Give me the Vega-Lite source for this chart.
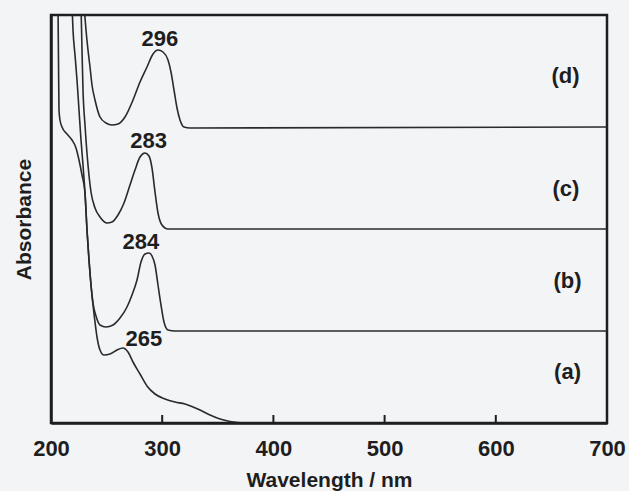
{
  "$schema": "https://vega.github.io/schema/vega-lite/v6.json",
  "autosize": {"type": "none"},
  "padding": {"left": 51, "top": 15, "right": 22, "bottom": 68},
  "width": 556,
  "height": 408,
  "background": "#f3f4f6",
  "config": {
    "view": {"stroke": "#1e1e1e", "strokeWidth": 2.5},
    "font": "Liberation Sans"
  },
  "datasets": {
    "spectra": [
      {"s":"a","w":206.29,"v":418},{"s":"a","w":206.74,"v":363},{"s":"a","w":207.19,"v":313},{"s":"a","w":208.09,"v":303},{"s":"a","w":209.89,"v":296},{"s":"a","w":214.39,"v":289},{"s":"a","w":218.88,"v":283},{"s":"a","w":222.48,"v":275},{"s":"a","w":225.18,"v":263},{"s":"a","w":227.88,"v":248},{"s":"a","w":230.58,"v":230},{"s":"a","w":232.37,"v":193},{"s":"a","w":234.17,"v":163},{"s":"a","w":235.97,"v":138},{"s":"a","w":237.77,"v":118},{"s":"a","w":239.57,"v":101},{"s":"a","w":241.37,"v":86},{"s":"a","w":244.06,"v":73},{"s":"a","w":247.66,"v":68},{"s":"a","w":253.06,"v":69},{"s":"a","w":259.35,"v":73},{"s":"a","w":264.75,"v":75},{"s":"a","w":269.24,"v":71},{"s":"a","w":273.74,"v":61},{"s":"a","w":280.04,"v":49},{"s":"a","w":286.33,"v":37},{"s":"a","w":293.53,"v":29},{"s":"a","w":302.52,"v":24},{"s":"a","w":311.51,"v":21},{"s":"a","w":320.5,"v":19},{"s":"a","w":327.7,"v":16},{"s":"a","w":334.0,"v":13},{"s":"a","w":342.99,"v":8},{"s":"a","w":351.98,"v":4},{"s":"a","w":360.97,"v":1.5},{"s":"a","w":374.46,"v":0},{"s":"a","w":700,"v":0},
      {"s":"b","w":218.88,"v":418},{"s":"b","w":219.78,"v":393},{"s":"b","w":221.58,"v":368},{"s":"b","w":223.38,"v":343},{"s":"b","w":225.18,"v":313},{"s":"b","w":226.98,"v":283},{"s":"b","w":228.78,"v":258},{"s":"b","w":230.58,"v":230},{"s":"b","w":232.37,"v":193},{"s":"b","w":234.17,"v":163},{"s":"b","w":235.97,"v":138},{"s":"b","w":237.77,"v":120},{"s":"b","w":240.47,"v":107},{"s":"b","w":244.06,"v":98},{"s":"b","w":249.46,"v":96},{"s":"b","w":255.76,"v":98},{"s":"b","w":262.05,"v":105},{"s":"b","w":268.35,"v":116},{"s":"b","w":272.84,"v":128},{"s":"b","w":277.34,"v":143},{"s":"b","w":280.94,"v":161},{"s":"b","w":284.53,"v":169},{"s":"b","w":288.13,"v":170},{"s":"b","w":290.83,"v":167},{"s":"b","w":293.53,"v":158},{"s":"b","w":296.22,"v":138},{"s":"b","w":298.92,"v":118},{"s":"b","w":301.62,"v":101},{"s":"b","w":305.22,"v":93},{"s":"b","w":311.51,"v":92},{"s":"b","w":700,"v":92},
      {"s":"c","w":226.98,"v":418},{"s":"c","w":227.88,"v":373},{"s":"c","w":228.78,"v":333},{"s":"c","w":230.58,"v":298},{"s":"c","w":231.47,"v":283},{"s":"c","w":233.27,"v":258},{"s":"c","w":235.97,"v":231},{"s":"c","w":239.57,"v":215},{"s":"c","w":244.06,"v":206},{"s":"c","w":250.36,"v":200},{"s":"c","w":254.86,"v":201},{"s":"c","w":260.25,"v":208},{"s":"c","w":265.65,"v":220},{"s":"c","w":271.04,"v":238},{"s":"c","w":275.54,"v":253},{"s":"c","w":280.04,"v":266},{"s":"c","w":284.53,"v":270},{"s":"c","w":288.13,"v":267},{"s":"c","w":290.83,"v":255},{"s":"c","w":293.53,"v":231},{"s":"c","w":296.22,"v":210},{"s":"c","w":299.82,"v":198},{"s":"c","w":305.22,"v":194},{"s":"c","w":700,"v":194},
      {"s":"d","w":229.68,"v":418},{"s":"d","w":231.47,"v":393},{"s":"d","w":233.27,"v":373},{"s":"d","w":235.07,"v":356},{"s":"d","w":236.87,"v":338},{"s":"d","w":239.57,"v":323},{"s":"d","w":244.06,"v":306},{"s":"d","w":249.46,"v":300},{"s":"d","w":254.86,"v":298},{"s":"d","w":260.25,"v":299},{"s":"d","w":266.55,"v":306},{"s":"d","w":273.74,"v":323},{"s":"d","w":280.04,"v":341},{"s":"d","w":286.33,"v":356},{"s":"d","w":291.73,"v":369},{"s":"d","w":296.22,"v":373},{"s":"d","w":300.72,"v":371},{"s":"d","w":305.22,"v":363},{"s":"d","w":307.91,"v":351},{"s":"d","w":310.61,"v":333},{"s":"d","w":313.31,"v":315},{"s":"d","w":316.01,"v":303},{"s":"d","w":319.6,"v":296},{"s":"d","w":325.0,"v":295},{"s":"d","w":700,"v":296}
    ],
    "labels": [
      {"t":"296","w":298.0,"v":384.5},
      {"t":"283","w":287.7,"v":282.5},
      {"t":"284","w":280.9,"v":181.5},
      {"t":"265","w":283.6,"v":84},
      {"t":"(d)","w":662.7,"v":347},
      {"t":"(c)","w":663.1,"v":234},
      {"t":"(b)","w":664.5,"v":142.5},
      {"t":"(a)","w":664.5,"v":51}
    ],
    "ticks": [
      {"w":300,"lo":0,"hi":8},
      {"w":400,"lo":0,"hi":8},
      {"w":500,"lo":0,"hi":8},
      {"w":600,"lo":0,"hi":8}
    ]
  },
  "layer": [
    {
      "data": {"name": "spectra"},
      "mark": {"type": "line", "clip": true, "interpolate": "monotone", "stroke": "#2a2a2a", "strokeWidth": 1.6},
      "encoding": {
        "x": {"field": "w", "type": "quantitative",
          "scale": {"domain": [200, 700], "nice": false, "zero": false},
          "axis": {"values": [200, 300, 400, 500, 600, 700], "ticks": false,
            "zindex": 1,
            "domainColor": "#1e1e1e", "domainWidth": 2.5, "grid": false,
            "labelFont": "Liberation Sans", "labelFontWeight": "bold", "labelFontSize": 22, "labelColor": "#1e1e1e",
            "labelPadding": 15, "labelFlush": false,
            "title": "Wavelength / nm", "titleFont": "Liberation Sans", "titleFontWeight": "bold", "titleFontSize": 21,
            "titleColor": "#1e1e1e", "titlePadding": 10}},
        "y": {"field": "v", "type": "quantitative",
          "scale": {"domain": [0, 408], "nice": false},
          "axis": {"ticks": false, "labels": false, "grid": false, "domainColor": "#1e1e1e", "domainWidth": 2.5,
            "zindex": 1,
            "title": "Absorbance", "titleFont": "Liberation Sans", "titleFontWeight": "bold", "titleFontSize": 21,
            "titleColor": "#1e1e1e", "titlePadding": 17}},
        "detail": {"field": "s", "type": "nominal"}
      }
    },
    {
      "data": {"name": "ticks"},
      "mark": {"type": "rule", "stroke": "#1e1e1e", "strokeWidth": 2},
      "encoding": {
        "x": {"field": "w", "type": "quantitative"},
        "y": {"field": "lo", "type": "quantitative"},
        "y2": {"field": "hi"}
      }
    },
    {
      "data": {"name": "labels"},
      "mark": {"type": "text", "font": "Liberation Sans", "fontWeight": "bold", "fontSize": 22, "color": "#1e1e1e", "align": "center", "baseline": "middle"},
      "encoding": {
        "x": {"field": "w", "type": "quantitative"},
        "y": {"field": "v", "type": "quantitative"},
        "text": {"field": "t", "type": "nominal"}
      }
    }
  ]
}
